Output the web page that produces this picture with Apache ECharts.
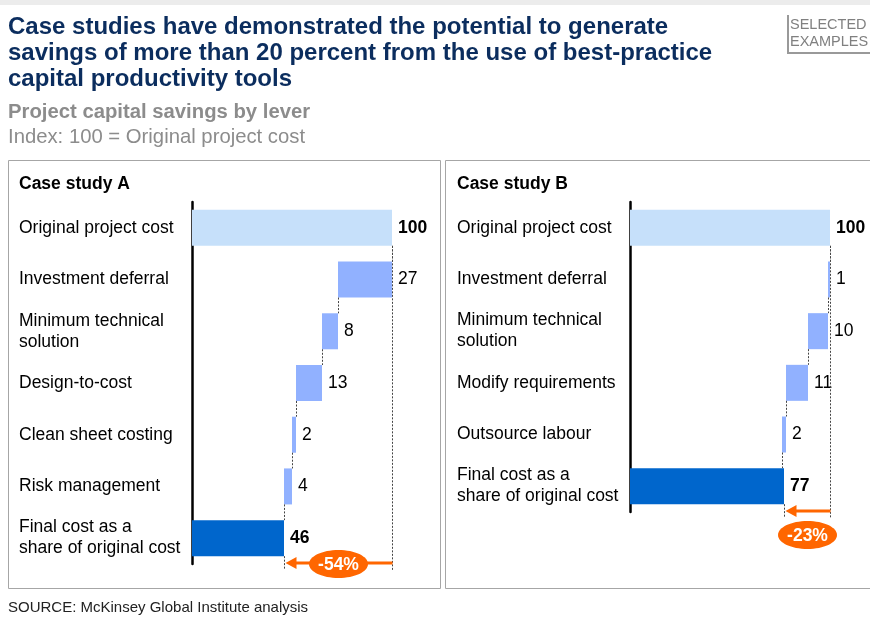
<!DOCTYPE html>
<html>
<head>
<meta charset="utf-8">
<script src="https://cdn.jsdelivr.net/npm/echarts@6/dist/echarts.min.js"></script>
<style>
html,body{margin:0;padding:0;background:#fff;}
#chart{width:870px;height:630px;}
</style>
</head>
<body>
<div id="chart"></div>
<script>
// ---- Data ----
const catsA = ['Original project cost', 'Investment deferral', 'Minimum technical\nsolution', 'Design-to-cost', 'Clean sheet costing', 'Risk management', 'Final cost as a\nshare of original cost'];
const valsA = [100, 27, 8, 13, 2, 4, 46];
const catsB = ['Original project cost', 'Investment deferral', 'Minimum technical\nsolution', 'Modify requirements', 'Outsource labour', 'Final cost as a\nshare of original cost'];
const valsB = [100, 1, 10, 11, 2, 77];

// ---- Styles ----
const FONT = '"Liberation Sans", Arial, sans-serif';
const C_TOTAL = '#c6e0fa';
const C_LEVER = '#91b1ff';
const C_FINAL = '#0066cc';
const C_ORANGE = '#ff6600';
const BAR_W = 36;
const FS = 17.5;

function waterfall(vals) {
  const n = vals.length;
  const base = new Array(n).fill(0);
  let run = vals[0];
  const conn = [[vals[0], 0]];
  for (let i = 1; i < n - 1; i++) {
    run -= vals[i];
    base[i] = run;
    conn.push([run, i]);
  }
  return { base, conn };
}

function buildSeries(vals, gi, badgeBelow) {
  const n = vals.length;
  const wf = waterfall(vals);
  const visible = vals.map((v, i) => {
    const isTot = (i === 0 || i === n - 1);
    return {
      value: v,
      itemStyle: { color: i === 0 ? C_TOTAL : (i === n - 1 ? C_FINAL : C_LEVER) },
      label: { fontWeight: isTot ? 'bold' : 'normal' }
    };
  });
  return [
    {
      type: 'bar', xAxisIndex: gi, yAxisIndex: gi, stack: 's' + gi,
      barWidth: BAR_W, silent: true,
      itemStyle: { color: 'transparent' },
      data: wf.base
    },
    {
      type: 'bar', xAxisIndex: gi, yAxisIndex: gi, stack: 's' + gi,
      barWidth: BAR_W,
      label: { show: true, position: 'right', distance: 6, fontSize: FS, color: '#000', fontFamily: FONT },
      data: visible
    },
    {
      type: 'custom', xAxisIndex: gi, yAxisIndex: gi, clip: false, silent: true, z: 5,
      encode: { x: 0, y: 1 },
      data: wf.conn,
      renderItem: function (params, api) {
        const p = api.coord([api.value(0), api.value(1)]);
        const band = api.size([0, 1])[1];
        const x = Math.round(p[0]) + 0.5;
        return {
          type: 'line',
          shape: { x1: x, y1: p[1] + BAR_W / 2, x2: x, y2: p[1] + band - BAR_W / 2 },
          style: { stroke: '#444', lineWidth: 1, lineDash: [2, 1.5] }
        };
      }
    },
    {
      type: 'custom', xAxisIndex: gi, yAxisIndex: gi, clip: false, silent: true, z: 6,
      encode: { x: 0, y: 1 },
      data: [[vals[n - 1], n - 1, vals[0]]],
      renderItem: function (params, api) {
        const fin = api.value(0), last = api.value(1), tot = api.value(2);
        const pF = api.coord([fin, last]);
        const pT = api.coord([tot, 0]);
        const band = api.size([0, 1])[1];
        const xF = Math.round(pF[0]) + 0.5, xT = Math.round(pT[0]) + 0.5;
        const yA = pF[1] + band / 2 - 1;
        const pct = Math.round((fin - tot) / tot * 100) + '%';
        const bx = (xF + xT) / 2;
        const by = badgeBelow ? yA + 24 : yA + 1;
        return {
          type: 'group',
          children: [
            { type: 'line', shape: { x1: xT, y1: pT[1] + BAR_W / 2, x2: xT, y2: yA + 7 },
              style: { stroke: '#444', lineWidth: 1, lineDash: [2, 1.5] } },
            { type: 'line', shape: { x1: xF, y1: pF[1] + BAR_W / 2, x2: xF, y2: yA + 7 },
              style: { stroke: '#444', lineWidth: 1, lineDash: [2, 1.5] } },
            { type: 'line', shape: { x1: xT, y1: yA, x2: xF + 10, y2: yA },
              style: { stroke: C_ORANGE, lineWidth: 3 } },
            { type: 'polygon', shape: { points: [[xF + 1, yA], [xF + 12, yA - 6], [xF + 12, yA + 6]] },
              style: { fill: C_ORANGE } },
            { type: 'ellipse', shape: { cx: bx, cy: by, rx: 29.5, ry: 14 },
              style: { fill: C_ORANGE } },
            { type: 'text', style: { text: pct, x: bx, y: by + 1, align: 'center', verticalAlign: 'middle',
              fill: '#fff', font: 'bold ' + FS + 'px ' + FONT } }
          ]
        };
      }
    }
  ];
}

function yAxisCfg(gi, cats) {
  return {
    gridIndex: gi, type: 'category', data: cats, inverse: true,
    axisLine: { show: true, lineStyle: { color: '#000', width: 2.5 } },
    axisTick: { show: false },
    splitLine: { show: false },
    axisLabel: { align: 'left', margin: 173, fontSize: FS, color: '#000', lineHeight: 21, fontFamily: FONT }
  };
}

const option = {
  animation: false,
  textStyle: { fontFamily: FONT },
  grid: [
    { left: 192, top: 202, width: 200, height: 362 },
    { left: 630, top: 202, width: 200, height: 310 }
  ],
  xAxis: [
    { gridIndex: 0, type: 'value', min: 0, max: 100, show: false },
    { gridIndex: 1, type: 'value', min: 0, max: 100, show: false }
  ],
  yAxis: [yAxisCfg(0, catsA), yAxisCfg(1, catsB)],
  graphic: [
    { type: 'rect', shape: { x: 0, y: 0, width: 870, height: 5 }, style: { fill: '#ececec' }, silent: true },
    { type: 'text', x: 8, y: 14, style: {
        text: 'Case studies have demonstrated the potential to generate\nsavings of more than 20 percent from the use of best-practice\ncapital productivity tools',
        font: 'bold 24px ' + FONT, fill: '#0b2d5e', lineHeight: 26, verticalAlign: 'top' } },
    { type: 'text', x: 8, y: 112, style: { text: 'Project capital savings by lever', font: 'bold 20.3px ' + FONT, fill: '#8c8c8c', verticalAlign: 'middle' } },
    { type: 'text', x: 8, y: 137, style: { text: 'Index: 100 = Original project cost', font: '20.3px ' + FONT, fill: '#8c8c8c', verticalAlign: 'middle' } },
    // selected examples tag
    { type: 'polyline', shape: { points: [[788, 15], [788, 53], [872, 53]] }, style: { stroke: '#999', lineWidth: 2, fill: null } },
    { type: 'text', x: 790, y: 16, style: { text: 'SELECTED\nEXAMPLES', font: '14.5px ' + FONT, fill: '#808080', lineHeight: 17 } },
    // panels
    { type: 'rect', shape: { x: 8.5, y: 160.5, width: 432, height: 428 }, style: { stroke: '#a6a6a6', fill: null, lineWidth: 1 } },
    { type: 'rect', shape: { x: 445.5, y: 160.5, width: 440, height: 428 }, style: { stroke: '#a6a6a6', fill: null, lineWidth: 1 } },
    { type: 'text', x: 19, y: 184, style: { text: 'Case study A', font: 'bold ' + FS + 'px ' + FONT, fill: '#000', verticalAlign: 'middle' } },
    { type: 'text', x: 457, y: 184, style: { text: 'Case study B', font: 'bold ' + FS + 'px ' + FONT, fill: '#000', verticalAlign: 'middle' } },
    { type: 'text', x: 8, y: 608, style: { text: 'SOURCE: McKinsey Global Institute analysis', font: '15px ' + FONT, fill: '#222', verticalAlign: 'middle' } }
  ],
  series: [].concat(buildSeries(valsA, 0, false), buildSeries(valsB, 1, true))
};

const chart = echarts.init(document.getElementById('chart'), null, { renderer: 'canvas' });
chart.setOption(option);
</script>
</body>
</html>
